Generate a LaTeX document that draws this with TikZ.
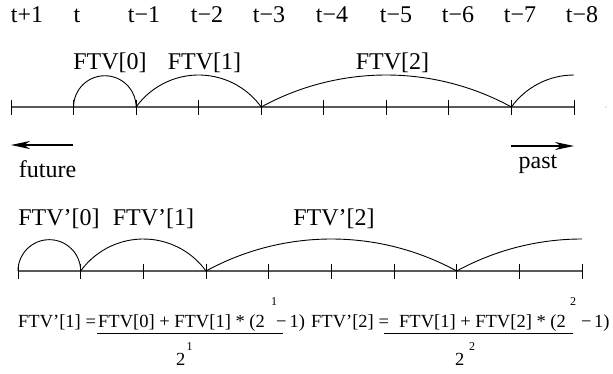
\documentclass[tikz,border=0pt]{standalone}
\usepackage{fontspec}
\setmainfont{Liberation Serif}
\usetikzlibrary{arrows.meta}
\tikzset{
  lbl/.style={font=\fontsize{24}{28}\selectfont, inner sep=0pt, anchor=base},
  frm/.style={font=\fontsize{18.5}{22}\selectfont, inner sep=0pt, anchor=base west},
  supr/.style={font=\fontsize{12}{14}\selectfont, inner sep=0pt, anchor=base west},
  axisline/.style={line width=1.4pt, black!65},
  tickline/.style={line width=0.9pt, black},
  arcline/.style={line width=0.9pt, black},
  dirarrow/.style={line width=1.2pt, -{Stealth[length=19pt,width=8pt,inset=6pt]}},
  fracline/.style={line width=1pt, black}
}
\begin{document}
\begin{tikzpicture}[x=1pt,y=1pt]
\useasboundingbox (0,0) rectangle (613,-373);
% ---------- top axis ----------
\foreach \k in {0,...,9} {
  \coordinate (a\k) at ({11+62.55*\k},-107);
}
\draw[axisline] (a0) -- (a9);
\foreach \k in {0,...,9} {
  \draw[tickline] ([yshift=7.5pt]a\k) -- ([yshift=-7.5pt]a\k);
}
% time labels
\node[lbl] (l0) at (27,-22) {t+1};
\node[lbl] (l1) at (77,-22) {t};
\node[lbl] (l2) at (144,-22) {t−1};
\node[lbl] (l3) at (207,-22) {t−2};
\node[lbl] (l4) at (269,-22) {t−3};
\node[lbl] (l5) at (332,-22) {t−4};
\node[lbl] (l6) at (396,-22) {t−5};
\node[lbl] (l7) at (458,-22) {t−6};
\node[lbl] (l8) at (520,-22) {t−7};
\node[lbl] (l9) at (582,-22) {t−8};
% arcs
\draw[arcline] (a1) arc[start angle=180, end angle=0, radius=31.27];
\draw[arcline] (a2) arc[start angle=144.19, end angle=35.81, radius=77.13];
\draw[arcline] (a4) arc[start angle=118.70, end angle=61.30, radius=260.5];
\draw[arcline] (a8) arc[start angle=144.19, end angle=90, radius=77.13];
\node[lbl] (f0) at (110,-69) {FTV[0]};
\node[lbl] (f1) at (204.5,-69) {FTV[1]};
\node[lbl] (f2) at (392.5,-69) {FTV[2]};
% direction arrows
\coordinate (fs) at (73,-145);
\coordinate (fe) at (11,-145);
\draw[dirarrow] (fs) -- (fe);
\node[lbl] (fut) at (47.5,-177) {future};
\coordinate (ps) at (511,-146);
\coordinate (pe) at (574,-146);
\draw[dirarrow] (ps) -- (pe);
\node[lbl] (pst) at (538,-168) {past};
\fill[black!40] (606,-107) circle (0.7pt);
% ---------- bottom axis ----------
\foreach \k in {0,...,9} {
  \coordinate (b\k) at ({18+62.67*\k},-271);
}
\draw[axisline] (b0) -- (b9);
\foreach \k in {0,...,9} {
  \draw[tickline] ([yshift=7.5pt]b\k) -- ([yshift=-7.5pt]b\k);
}
\draw[arcline] (b0) arc[start angle=180, end angle=0, radius=31.33];
\draw[arcline] (b1) arc[start angle=144.1, end angle=35.9, radius=77.37];
\draw[arcline] (b3) arc[start angle=118.65, end angle=61.35, radius=261.4];
\draw[arcline] (b7) arc[start angle=118.65, end angle=90, radius=261.4];
\node[lbl] (g0) at (59,-225) {FTV’[0]};
\node[lbl] (g1) at (153.5,-225) {FTV’[1]};
\node[lbl] (g2) at (334,-225) {FTV’[2]};
% ---------- formulas ----------
\node[frm] (e1) at (18,-327) {FTV’[1] =};
\node[frm] (n1) at (98,-327) {FTV[0] + FTV[1] * (2};
\node[supr] (s1) at (271,-305) {1};
\node[frm] (m1) at (276,-327) {−};
\node[frm] (o1) at (289.5,-327) {1)};
\node[frm] (e2) at (311,-327) {FTV’[2] =};
\node[frm] (n2) at (399,-327) {FTV[1] + FTV[2] * (2};
\node[supr] (s2) at (570,-305) {2};
\node[frm] (m2) at (581,-327) {−};
\node[frm] (o2) at (594,-327) {1)};
\coordinate (r1a) at (97,-333);
\coordinate (r1b) at (283,-333);
\coordinate (r2a) at (384,-333);
\coordinate (r2b) at (573,-333);
\draw[fracline] (r1a) -- (r1b);
\draw[fracline] (r2a) -- (r2b);
\node[frm] (d1) at (176,-365) {2};
\node[supr] (ds1) at (186.5,-350) {1};
\node[frm] (d2) at (455,-365) {2};
\node[supr] (ds2) at (469,-350) {2};
\end{tikzpicture}
\end{document}
